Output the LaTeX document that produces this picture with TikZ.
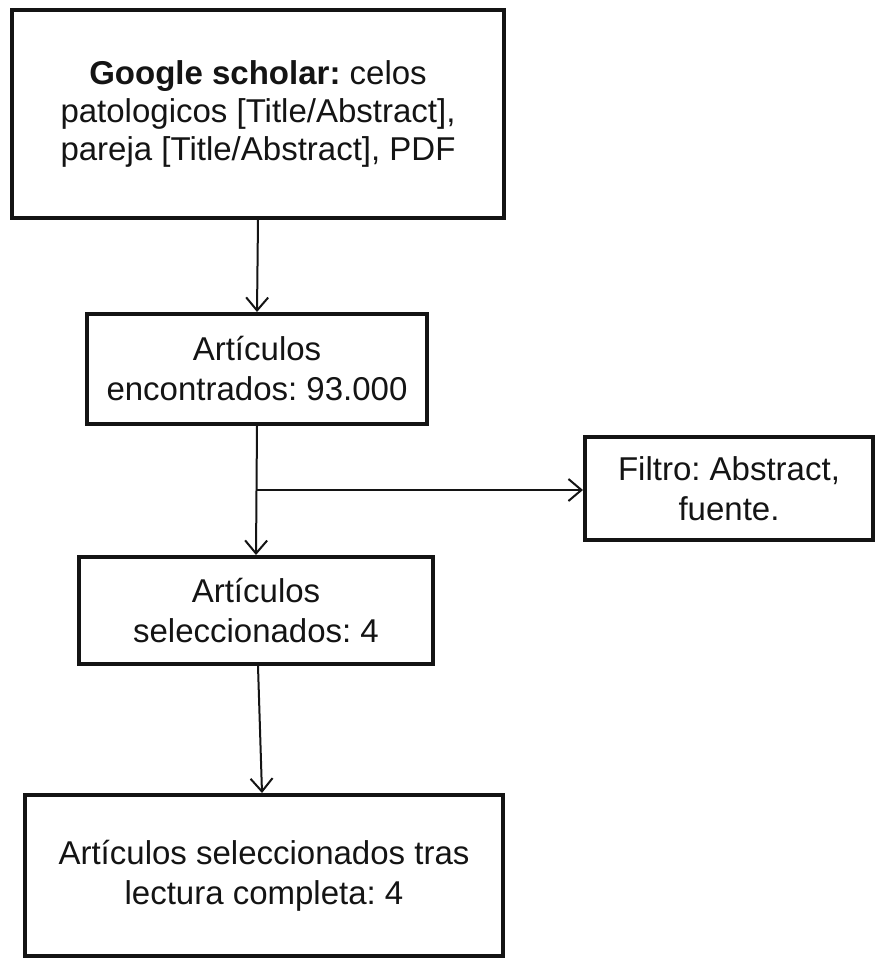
\documentclass[tikz,border=0pt]{standalone}
\usepackage{fontspec}
\setmainfont{Liberation Sans}
\usetikzlibrary{arrows.meta}
\definecolor{ink}{HTML}{141414}
\frenchspacing
\tikzset{
  flowbox/.style={draw=ink, line width=4pt, fill=white, inner sep=0pt, align=center,
    text=ink, font=\fontsize{33}{38}\selectfont},
  flowarr/.style={draw=ink, line width=2pt, -{Straight Barb[length=13pt,width=22pt,line width=2pt]}}
}
\begin{document}
\begin{tikzpicture}[x=1pt,y=-1pt]
\useasboundingbox[fill=white] (0,0) rectangle (876,959);
\node[flowbox, minimum width=492pt, minimum height=208pt] (box1) at (258,114)
  {\textbf{Google scholar:} celos\\patologicos [Title/Abstract],\\pareja [Title/Abstract], PDF};
\node[flowbox, minimum width=340pt, minimum height=110pt, font=\fontsize{33}{40}\selectfont] (box2) at (257,369)
  {Artículos\\encontrados: 93.000};
\node[flowbox, minimum width=288pt, minimum height=103pt, font=\fontsize{33}{40}\selectfont] (box3) at (729,488.5)
  {Filtro: Abstract,\\fuente.};
\node[flowbox, minimum width=354pt, minimum height=107pt, font=\fontsize{33}{40}\selectfont] (box4) at (256,610.5)
  {Artículos\\seleccionados: 4};
\node[flowbox, minimum width=478pt, minimum height=161pt, font=\fontsize{33}{40}\selectfont] (box5) at (264,875.5)
  {Artículos seleccionados tras\\lectura completa: 4};
\coordinate (branch) at (257,490);
\draw[flowarr] (box1.south) -- (box2.north);
\draw[flowarr] (box2.south) -- (box4.north);
\draw[flowarr] (branch) -- (branch -| box3.west);
\draw[flowarr] ([xshift=2pt]box4.south) -- ([xshift=-2pt]box5.north);
\end{tikzpicture}
\end{document}
